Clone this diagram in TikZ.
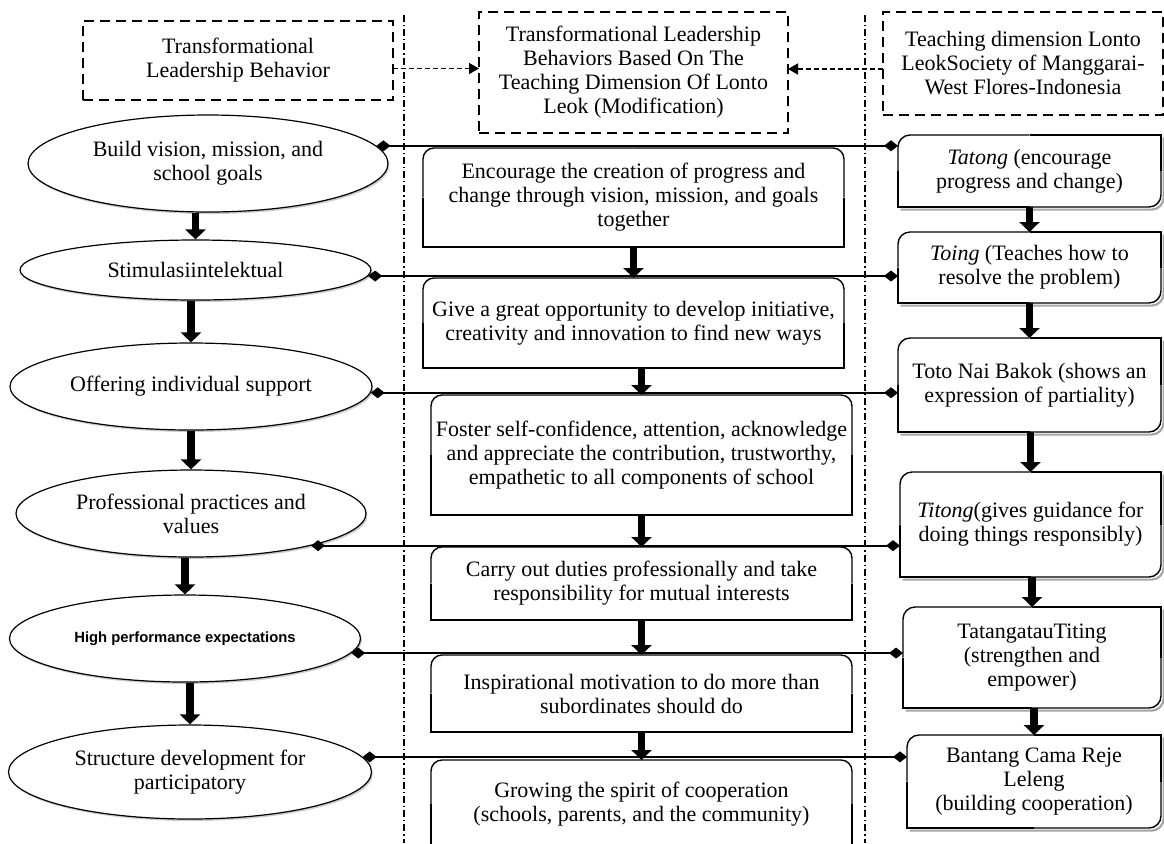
\documentclass[tikz,border=0pt]{standalone}
\usepackage{fontspec}
\setmainfont{Liberation Serif}
\newfontfamily\labelsans{Liberation Sans}
\usetikzlibrary{arrows.meta,shapes.geometric,shadows}

\tikzset{
  txt/.style={font=\fontsize{11}{12}\selectfont, align=center},
  hdbox/.style={txt, draw, line width=0.9pt, dash pattern=on 5pt off 3pt, inner sep=0pt, outer sep=0pt},
  oval/.style={txt, ellipse, draw, line width=0.6pt, fill=white, inner sep=0pt,
    drop shadow={shadow xshift=0.7pt, shadow yshift=-1pt, fill=black!40}},
  midbox/.style={txt, inner sep=0pt, outer sep=0pt, minimum width=210.5pt},
  sidebox/.style={txt, inner sep=0pt, outer sep=0pt},
  edge/.style={line width=0.7pt},
  sideshade/.style={line width=1.1pt, black!35},
  downarrow/.style={line width=3.6pt, -{Triangle[width=10pt,length=5pt]}},
  link/.style={line width=0.9pt, {Diamond[width=5.5pt,length=7pt]}-{Diamond[width=5.5pt,length=7pt]}},
  dasharrow/.style={line width=0.8pt, dash pattern=on 2.5pt off 1.5pt, -{Triangle[width=5.5pt,length=5pt]}},
  sepline/.style={line width=0.6pt, dash pattern=on 3.5pt off 1.5pt on 0.6pt off 1.5pt}
}

\begin{document}
\begin{tikzpicture}[x=0.5pt,y=-0.5pt]
\useasboundingbox (0,0) rectangle (1164,843);

% column separators
\draw[sepline] (404,15) -- (404,843);
\draw[sepline] (865,15) -- (865,843);

% headers
\node[hdbox, minimum width=155pt, minimum height=39.5pt] (h1) at (238,60.5) {Transformational\\Leadership Behavior};
\node[hdbox, minimum width=154.5pt, minimum height=60.5pt] (h2) at (633.5,72.5) {Transformational Leadership\\Behaviors Based On The\\Teaching Dimension Of Lonto\\Leok (Modification)};
\node[hdbox, minimum width=140pt, minimum height=51.5pt] (h3) at (1023,63.5) {Teaching dimension Lonto\\LeokSociety of Manggarai-\\West Flores-Indonesia};

% left column
\node[oval, minimum width=180pt, minimum height=48.5pt] (e1) at (208,163.5) {Build vision, mission, and\\school goals};
\node[oval, minimum width=175.5pt, minimum height=30pt] (e2) at (195.5,270) {Stimulasiintelektual};
\node[oval, minimum width=181pt, minimum height=43.5pt] (e3) at (191,386.5) {Offering individual support};
\node[oval, minimum width=175pt, minimum height=43.5pt] (e4) at (191,513.5) {Professional practices and\\values};
\node[oval, minimum width=175.5pt, minimum height=43.5pt] (e5) at (185,638.5) {\labelsans\bfseries\fontsize{7.4}{9}\selectfont High performance expectations};
\node[oval, minimum width=181.5pt, minimum height=47pt] (e6) at (190,772) {Structure development for\\participatory};

% middle column
\node[midbox, minimum height=49.5pt] (m1) at (633.5,197.5) {Encourage the creation of progress and\\change through vision, mission, and goals\\together};
\node[midbox, minimum height=45pt] (m2) at (633.5,323) {Give a great opportunity to develop initiative,\\creativity and innovation to find new ways};
\node[midbox, minimum height=60pt] (m3) at (641.5,455) {Foster self-confidence, attention, acknowledge\\and appreciate the contribution, trustworthy,\\empathetic to all components of school};
\node[midbox, minimum height=36.5pt] (m4) at (641.5,583.5) {Carry out duties professionally and take\\responsibility for mutual interests};
\node[midbox, minimum height=38.5pt] (m5) at (641.5,693.5) {Inspirational motivation to do more than\\subordinates should do};
\node[midbox, minimum height=44pt] (m6) at (641.5,804) {Growing the spirit of cooperation\\(schools, parents, and the community)};

% right column
\node[sidebox, minimum width=131.5pt, minimum height=36pt] (r1) at (1029.5,171) {\textit{Tatong} (encourage\\progress and change)};
\node[sidebox, minimum width=131.5pt, minimum height=35.5pt] (r2) at (1029.5,267.5) {\textit{Toing} (Teaches how to\\resolve the problem)};
\node[sidebox, minimum width=131.5pt, minimum height=47pt] (r3) at (1029.5,385) {Toto Nai Bakok (shows an\\expression of partiality)};
\node[sidebox, minimum width=130.5pt, minimum height=52.5pt] (r4) at (1030.5,524.5) {\textit{Titong}(gives guidance for\\doing things responsibly)};
\node[sidebox, minimum width=129pt, minimum height=50.5pt] (r5) at (1032,657.5) {TatangatauTiting\\(strengthen and\\empower)};
\node[sidebox, minimum width=127pt, minimum height=46.5pt] (r6) at (1034,781.5) {Bantang Cama Reje\\Leleng\\(building cooperation)};

% box outlines: middle boxes round on top, side boxes round on the diagonal
\foreach \i in {1,...,6}{
  \draw[edge, rounded corners=5.5pt] (m\i.west) -- (m\i.north west) -- (m\i.north);
  \draw[edge, rounded corners=5.5pt] (m\i.north) -- (m\i.north east) -- (m\i.east);
  \draw[edge] (m\i.east) -- (m\i.south east) -- (m\i.south west) -- (m\i.west);
  \draw[sideshade, rounded corners=6pt] ([shift={(1.3pt,-1.3pt)}]r\i.south west) -- ([shift={(1.3pt,-1.3pt)}]r\i.south east) -- ([shift={(1.3pt,-1.3pt)}]r\i.north east);
  \draw[edge, rounded corners=6pt] (r\i.west) -- (r\i.north west) -- (r\i.north);
  \draw[edge] (r\i.north) -- (r\i.north east) -- (r\i.east);
  \draw[edge, rounded corners=6pt] (r\i.east) -- (r\i.south east) -- (r\i.south);
  \draw[edge] (r\i.south) -- (r\i.south west) -- (r\i.west);
}

% header arrows
\coordinate (a1) at ([yshift=-4pt]h1.east);
\coordinate (a3) at ([yshift=-2.75pt]h3.west);
\draw[dasharrow] (a1) -- (a1 -| h2.west);
\draw[dasharrow] (a3) -- (a3 -| h2.east);

% downward arrows
\foreach \a/\b in {e1/e2,e2/e3,e3/e4,e4/e5,e5/e6,m1/m2,m2/m3,m3/m4,m4/m5,m5/m6,r1/r2,r2/r3,r3/r4,r4/r5,r5/r6}
  \draw[downarrow] (\b.north |- \a.south) -- (\b.north);

% links between columns
\draw[link] (e1.6) -- (e1.6 -| r1.west);
\draw[link] (e2.-2) -- (e2.-2 -| r2.west);
\draw[link] (e3.-2) -- (e3.-2 -| r3.west);
\draw[link] (e4.-15) -- (e4.-15 -| r4.west);
\draw[link] (e5.-5) -- (e5.-5 -| r5.west);
\draw[link] (e6.5) -- (e6.5 -| r6.west);
\end{tikzpicture}
\end{document}
